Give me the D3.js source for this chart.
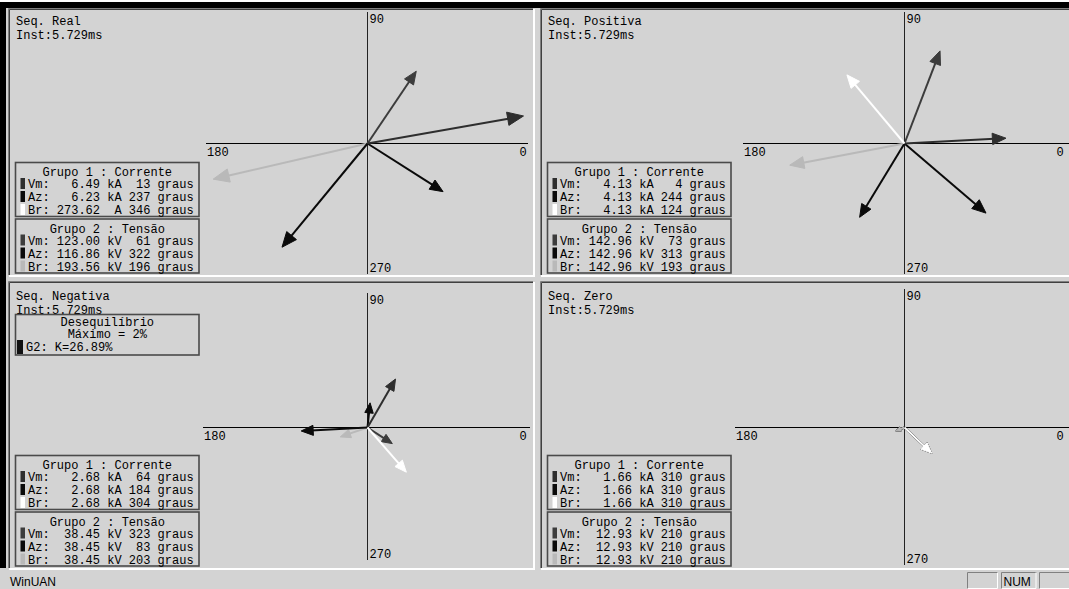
<!DOCTYPE html>
<html>
<head>
<meta charset="utf-8">
<script src="https://cdn.jsdelivr.net/npm/d3@7"></script>
<style>
  html, body { margin: 0; padding: 0; background: #d3d3d3; }
  svg { display: block; }
  .mono { font-family: "Courier New", "Liberation Mono", "DejaVu Sans Mono", monospace; font-size: 12px; fill: #000; }
  .sans { font-family: "Liberation Sans", Arial, sans-serif; font-size: 12px; fill: #000; }
</style>
</head>
<body>
<script>
// ---------------- data ----------------
const panelTitles = ["Seq. Real", "Seq. Positiva", "Seq. Negativa", "Seq. Zero"];
const instantLabel = "Inst:5.729ms";
const angleLabels = ["0", "90", "180", "270"];
const phaseNames = ["Vm", "Az", "Br"];
const groupTitles = ["Grupo 1 : Corrente", "Grupo 2 : Tensão"];

const currentValues  = [[6.49, 6.23, 273.62], [4.13, 4.13, 4.13], [2.68, 2.68, 2.68], [1.66, 1.66, 1.66]];
const currentUnits   = [["kA", "kA", "A"], ["kA", "kA", "kA"], ["kA", "kA", "kA"], ["kA", "kA", "kA"]];
const currentDegrees = [[13, 237, 346], [4, 244, 124], [64, 184, 304], [310, 310, 310]];

const voltageValues  = [[123.00, 116.86, 193.56], [142.96, 142.96, 142.96], [38.45, 38.45, 38.45], [12.93, 12.93, 12.93]];
const voltageUnits   = [["kV", "kV", "kV"], ["kV", "kV", "kV"], ["kV", "kV", "kV"], ["kV", "kV", "kV"]];
const voltageDegrees = [[61, 322, 196], [73, 313, 193], [323, 83, 203], [210, 210, 210]];

// phasor tips as drawn in the picture: angle (deg) and length (fraction of axis half-span)
const currentDrawnAngle  = [[10, 230.5, 346], [3, 238.7, 130], [60, 183, 311], [316.6, 316.6, 316.6]];
const currentDrawnLength = [[0.99, 0.84, 0], [0.635, 0.54, 0.56], [0.35, 0.415, 0.37], [0.235, 0.235, 0.235]];
const voltageDrawnAngle  = [[56, 327.5, 193], [69, 319.5, 190.7], [327, 84, 199], [201, 201, 201]];
const voltageDrawnLength = [[0.545, 0.56, 0.99], [0.62, 0.67, 0.73], [0.185, 0.155, 0.18], [0.058, 0.058, 0.058]];

const unbalanceLines = ["Desequilíbrio", "Máximo = 2%", "G2: K=26.89%"];
const statusText = "WinUAN";
const statusKeys = ["", "NUM", ""];

// ---------------- styles / layout ----------------
const W = 1069, H = 589;
const BG = "#d3d3d3";
const phaseColorsCurrent = ["#2e2e2e", "#0a0a0a", "#ffffff"];
const phaseColorsVoltage = ["#3c3c3c", "#0a0a0a", "#b9b9b9"];

const layout = [
  {x0: 10,  y0: 10,  x1: 533,  y1: 275, ox: 367.5, oy: 143.5, hx0: 206, hx1: 528,  vy0: 12,  vy1: 274, tx: 16,  ty: 25},
  {x0: 542, y0: 10,  x1: 1069, y1: 275, ox: 904.5, oy: 143.5, hx0: 743, hx1: 1069, vy0: 12,  vy1: 274, tx: 548, ty: 25},
  {x0: 10,  y0: 283, x1: 533,  y1: 568, ox: 367.5, oy: 427.5, hx0: 203, hx1: 530,  vy0: 293, vy1: 560, tx: 16,  ty: 300},
  {x0: 542, y0: 283, x1: 1069, y1: 568, ox: 904.5, oy: 427.5, hx0: 735, hx1: 1069, vy0: 289, vy1: 565, tx: 548, ty: 300}
];

const svg = d3.select("body").append("svg").attr("width", W).attr("height", H);
svg.append("rect").attr("width", W).attr("height", H).attr("fill", BG);

// window frame
svg.append("rect").attr("x", 0).attr("y", 0).attr("width", W).attr("height", 2).attr("fill", "#ffffff");
svg.append("rect").attr("x", 0).attr("y", 2).attr("width", W).attr("height", 6).attr("fill", "#000");
svg.append("rect").attr("x", 0).attr("y", 2).attr("width", 6).attr("height", 566).attr("fill", "#000");

const rScale = d3.scaleLinear().domain([0, 1]).range([0, 160]);
const nbsp = s => s.replace(/ /g, "\u00A0");

function fmtRow(name, value, unit, deg) {
  return nbsp(name + ": " + value.toFixed(2).padStart(6) + " " + unit.padStart(2) + " " + String(deg).padStart(3) + " graus");
}

function arrowPath(ox, oy, angleDeg, len) {
  if (len <= 0.5) return "";
  const a = angleDeg * Math.PI / 180;
  const ux = Math.cos(a), uy = -Math.sin(a);
  const L = Math.min(16, 9 + len * 0.045, len * 0.55);
  const hw = L * 0.42;
  const tx = ox + ux * len, ty = oy + uy * len;
  const bx = tx - ux * L, by = ty - uy * L;
  const px = -uy, py = ux;
  return {
    line: `M${ox},${oy}L${bx + ux * 2},${by + uy * 2}`,
    head: `M${tx},${ty}L${bx + px * hw},${by + py * hw}L${bx - px * hw},${by - py * hw}Z`
  };
}

layout.forEach((p, i) => {
  const g = svg.append("g");
  const w = p.x1 - p.x0, h = p.y1 - p.y0;
  // sunken frame
  g.append("rect").attr("x", p.x0).attr("y", p.y0).attr("width", w).attr("height", h).attr("fill", BG);
  g.append("path").attr("d", `M${p.x0 - 1.5},${p.y1}V${p.y0 - 1.5}H${p.x1}`).attr("stroke", "#808080").attr("fill", "none");
  g.append("path").attr("d", `M${p.x0 - 0.5},${p.y1}V${p.y0 - 0.5}H${p.x1}`).attr("stroke", "#404040").attr("fill", "none");
  g.append("path").attr("d", `M${p.x0 - 1},${p.y1 + 1}H${p.x1 + 1}V${p.y0 - 1}`).attr("stroke", "#ffffff").attr("stroke-width", 2).attr("fill", "none");

  // clip
  const clipId = "clip" + i;
  svg.append("clipPath").attr("id", clipId).append("rect")
    .attr("x", p.x0).attr("y", p.y0).attr("width", w).attr("height", h);
  const c = g.append("g").attr("clip-path", `url(#${clipId})`);

  // axes
  c.append("line").attr("x1", p.hx0).attr("x2", p.hx1).attr("y1", p.oy).attr("y2", p.oy).attr("stroke", "#000").attr("stroke-width", 1);
  c.append("line").attr("x1", p.ox).attr("x2", p.ox).attr("y1", p.vy0).attr("y2", p.vy1).attr("stroke", "#222").attr("stroke-width", 1);
  c.append("text").attr("class", "mono").attr("x", p.ox + 152).attr("y", p.oy + 12).text(angleLabels[0]);
  c.append("text").attr("class", "mono").attr("x", p.ox + 2).attr("y", p.vy0 + 11).text(angleLabels[1]);
  c.append("text").attr("class", "mono").attr("x", p.hx0 + 1).attr("y", p.oy + 12).text(angleLabels[2]);
  c.append("text").attr("class", "mono").attr("x", p.ox + 2).attr("y", p.vy1 - 2).text(angleLabels[3]);

  // phasors: voltage first, then current
  const phasors = [];
  [0, 1, 2].forEach(k => phasors.push({ang: voltageDrawnAngle[i][k], len: voltageDrawnLength[i][k], color: phaseColorsVoltage[k]}));
  [0, 1, 2].forEach(k => phasors.push({ang: currentDrawnAngle[i][k], len: currentDrawnLength[i][k], color: phaseColorsCurrent[k]}));
  phasors.forEach(d => {
    const ap = arrowPath(p.ox, p.oy, d.ang, rScale(d.len));
    if (!ap) return;
    c.append("path").attr("d", ap.line).attr("stroke", d.color).attr("stroke-width", 2).attr("fill", "none");
    c.append("path").attr("d", ap.head).attr("fill", d.color).attr("stroke", d.color).attr("stroke-width", 1).attr("stroke-linejoin", "miter");
  });

  // titles
  c.append("text").attr("class", "mono").attr("x", p.tx).attr("y", p.ty).text(nbsp(panelTitles[i]));
  c.append("text").attr("class", "mono").attr("x", p.tx).attr("y", p.ty + 13.5).text(instantLabel);

  // legend boxes
  const bx = p.tx - 0.5, bw = 183.5;
  const groups = [
    {top: p.y1 - 112.5, title: groupTitles[0], vals: currentValues[i], units: currentUnits[i], degs: currentDegrees[i], colors: phaseColorsCurrent},
    {top: p.y1 - 56, title: groupTitles[1], vals: voltageValues[i], units: voltageUnits[i], degs: voltageDegrees[i], colors: phaseColorsVoltage}
  ];
  groups.forEach(gr => {
    c.append("rect").attr("x", bx).attr("y", gr.top).attr("width", bw).attr("height", 54)
      .attr("fill", "none").attr("stroke", "#4a4a4a").attr("stroke-width", 1.6);
    c.append("text").attr("class", "mono").attr("x", bx + bw / 2).attr("y", gr.top + 13.5)
      .attr("text-anchor", "middle").text(nbsp(gr.title));
    [0, 1, 2].forEach(k => {
      const by = gr.top + 25.5 + k * 13;
      c.append("rect").attr("x", bx + 5).attr("y", by - 10).attr("width", 4.5).attr("height", 11).attr("fill", gr.colors[k]);
      c.append("text").attr("class", "mono").attr("x", bx + 12.5).attr("y", by)
        .text(fmtRow(phaseNames[k], gr.vals[k], gr.units[k], gr.degs[k]));
    });
  });

  // unbalance box (negative sequence)
  if (i === 2) {
    const top = p.ty + 14.5;
    c.append("rect").attr("x", bx).attr("y", top).attr("width", bw).attr("height", 40.5)
      .attr("fill", "none").attr("stroke", "#4a4a4a").attr("stroke-width", 1.6);
    c.append("text").attr("class", "mono").attr("x", bx + bw / 2).attr("y", top + 11.5).attr("text-anchor", "middle").text(unbalanceLines[0]);
    c.append("text").attr("class", "mono").attr("x", bx + bw / 2).attr("y", top + 23.8).attr("text-anchor", "middle").text(nbsp(unbalanceLines[1]));
    c.append("rect").attr("x", bx + 1.5).attr("y", top + 25.5).attr("width", 6).attr("height", 14).attr("fill", "#111");
    c.append("text").attr("class", "mono").attr("x", bx + 10.5).attr("y", top + 36.5).text(nbsp(unbalanceLines[2]));
  }
});

// status bar
svg.append("text").attr("class", "sans").attr("x", 10).attr("y", 586).text(statusText);
const keyBoxes = [[967, 998], [1001, 1036.5], [1039, 1075]];
keyBoxes.forEach((b, k) => {
  svg.append("path").attr("d", `M${b[0] + 0.5},589V${572.5}H${b[1]}`).attr("stroke", "#808080").attr("fill", "none");
  svg.append("path").attr("d", `M${b[0] + 0.5},588.5H${b[1] - 0.5}V${572.5}`).attr("stroke", "#ffffff").attr("fill", "none");
  if (statusKeys[k]) {
    svg.append("text").attr("class", "sans").attr("x", b[0] + 2.5).attr("y", 586).attr("font-size", 12).text(statusKeys[k]);
  }
});
</script>
</body>
</html>
